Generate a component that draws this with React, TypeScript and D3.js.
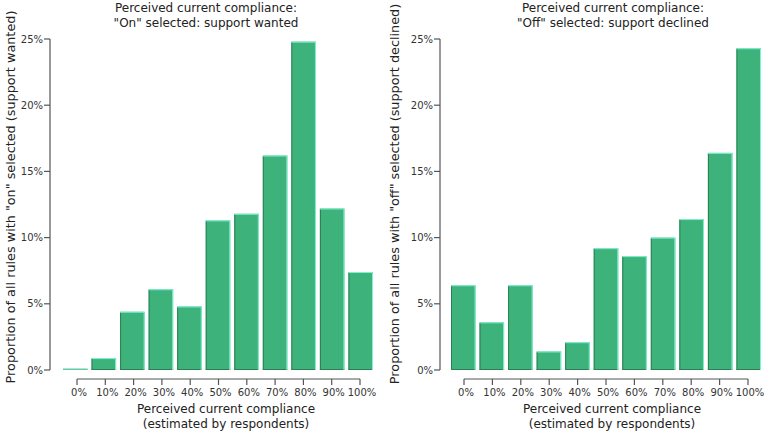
import React from "react";
import * as d3 from "d3";

const categories = ["0%", "10%", "20%", "30%", "40%", "50%", "60%", "70%", "80%", "90%", "100%"];
const onValues = [0.1, 0.9, 4.4, 6.1, 4.8, 11.3, 11.8, 16.2, 24.8, 12.2, 7.4];
const offValues = [6.4, 3.6, 6.4, 1.4, 2.1, 9.2, 8.6, 10.0, 11.4, 16.4, 24.3];
const yTicks = [0, 5, 10, 15, 20, 25];

const titlesOn = ["Perceived current compliance:", "\"On\" selected: support wanted"];
const titlesOff = ["Perceived current compliance:", "\"Off\" selected: support declined"];
const yTitleOn = "Proportion of all rules with \"on\" selected (support wanted)";
const yTitleOff = "Proportion of all rules with \"off\" selected (support declined)";
const xTitle = ["Perceived current compliance", "(estimated by respondents)"];

const FONT = "DejaVu Sans, sans-serif";
const FILL = "#3db27a";
const LIGHT = "#7ff2d2";
const DARK = "#2b7f52";
const AXIS = "#555";

type PanelProps = {
  values: number[];
  axisX: number;
  barRange: [number, number];
  tickRange: [number, number];
  titleX: number;
  titles: string[];
  yTitle: string;
  yTitleX: number;
  yTitleY: number;
  xTitleX: number;
};

function Panel(p: PanelProps) {
  const y = d3.scaleLinear().domain([0, 25]).range([370, 39]);
  const x = d3.scaleBand<string>().domain(categories).range(p.barRange).paddingInner(0.14).paddingOuter(0);
  const xt = d3.scalePoint<string>().domain(categories).range(p.tickRange);
  const bw = x.bandwidth();
  const axisY = 379;
  return (
    <g fontFamily={FONT}>
      {p.titles.map((t, i) => (
        <text key={i} x={p.titleX} y={12 + i * 15} textAnchor="middle" fontSize={12} fill="#222">{t}</text>
      ))}
      {/* y axis */}
      <line x1={p.axisX} x2={p.axisX} y1={y(25)} y2={y(0)} stroke={AXIS} strokeWidth={1.2} />
      {yTicks.map((t) => (
        <g key={t}>
          <line x1={p.axisX - 6} x2={p.axisX} y1={y(t)} y2={y(t)} stroke={AXIS} strokeWidth={1.2} />
          <text x={p.axisX - 7} y={y(t) + 3.5} textAnchor="end" fontSize={10} fill="#333">{t + "%"}</text>
        </g>
      ))}
      <text transform={`translate(${p.yTitleX},${p.yTitleY}) rotate(-90)`} textAnchor="middle" fontSize={12.8} fill="#222">{p.yTitle}</text>
      {/* bars */}
      {p.values.map((v, i) => {
        const c = categories[i];
        const x0 = x(c)!;
        const y0 = y(v);
        const y1 = y(0);
        return (
          <g key={c}>
            <rect x={x0} y={y0} width={bw} height={y1 - y0} fill={FILL} />
            <path d={`M${x0 + 0.5},${y1} L${x0 + 0.5},${y0 + 0.5} `} stroke={DARK} strokeWidth={1} fill="none" />
            <path d={`M${x0},${y1 - 0.5} L${x0 + bw},${y1 - 0.5}`} stroke={DARK} strokeWidth={1} fill="none" />
            <path d={`M${x0},${y0 + 0.5} L${x0 + bw - 0.5},${y0 + 0.5} L${x0 + bw - 0.5},${y1}`} stroke={LIGHT} strokeWidth={1} fill="none" />
          </g>
        );
      })}
      {/* x axis */}
      <line x1={xt(categories[0])!} x2={xt(categories[categories.length - 1])!} y1={axisY} y2={axisY} stroke={AXIS} strokeWidth={1.2} />
      {categories.map((c) => (
        <g key={c}>
          <line x1={xt(c)!} x2={xt(c)!} y1={axisY} y2={axisY + 6} stroke={AXIS} strokeWidth={1.2} />
          <text x={xt(c)! + 2} y={396} textAnchor="middle" fontSize={10} fill="#333">{c}</text>
        </g>
      ))}
      {xTitle.map((t, i) => (
        <text key={i} x={p.xTitleX} y={413 + i * 15} textAnchor="middle" fontSize={12} fill="#222">{t}</text>
      ))}
    </g>
  );
}

export default function App() {
  return (
    <svg width={766} height={436} style={{ position: "absolute", left: 0, top: 0, background: "#fff" }}>
      <rect width={766} height={436} fill="#fff" />
      <Panel values={onValues} axisX={50} barRange={[63, 373]} tickRange={[77, 360]} titleX={206}
        titles={titlesOn} yTitle={yTitleOn} yTitleX={15} yTitleY={197} xTitleX={226} />
      <Panel values={offValues} axisX={440} barRange={[451, 761]} tickRange={[464, 748]} titleX={613}
        titles={titlesOff} yTitle={yTitleOff} yTitleX={399} yTitleY={194} xTitleX={612} />
    </svg>
  );
}
